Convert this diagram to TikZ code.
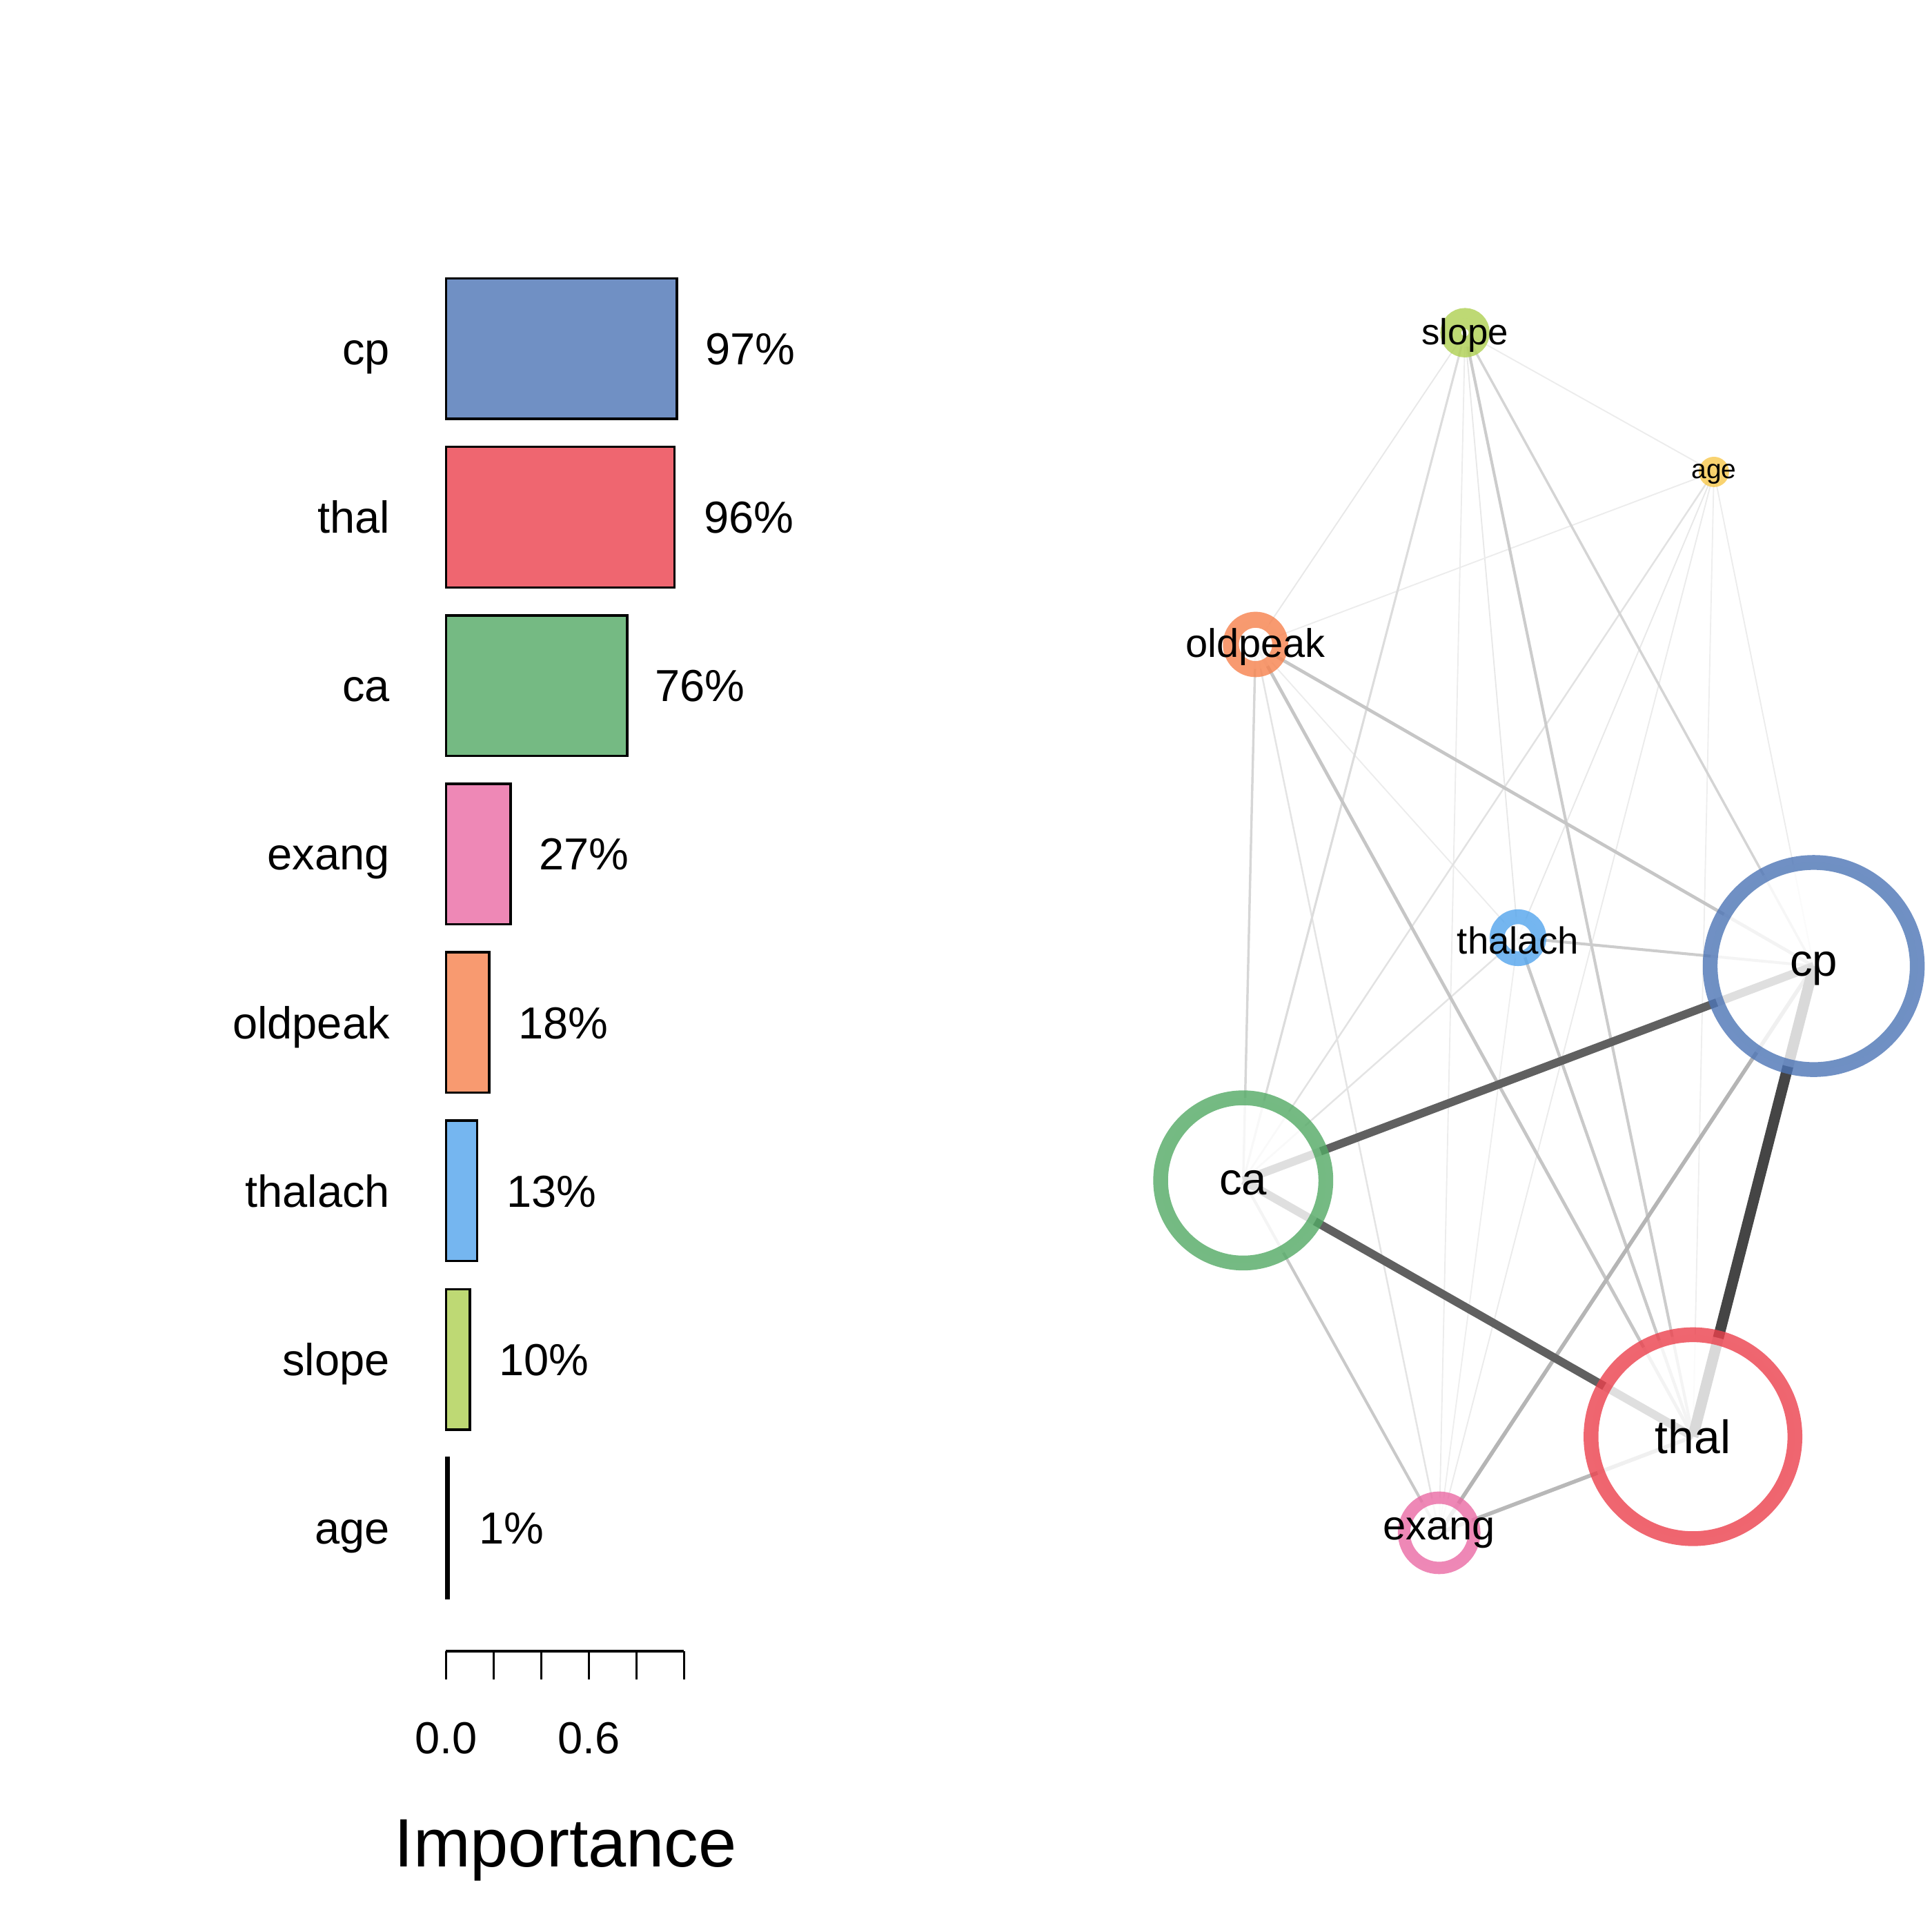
\documentclass[tikz,border=0pt]{standalone}
\usepackage{fontspec}
\setmainfont{Liberation Sans}
\pgfdeclarelayer{bg}
\pgfsetlayers{bg,main}
\definecolor{cpC}{HTML}{7090C4}
\definecolor{thalC}{HTML}{EF6670}
\definecolor{caC}{HTML}{75BA83}
\definecolor{exangC}{HTML}{EE88B6}
\definecolor{oldpeakC}{HTML}{F89A70}
\definecolor{thalachC}{HTML}{75B6F0}
\definecolor{slopeC}{HTML}{BED974}
\definecolor{ageC}{HTML}{F9D370}
\definecolor{cpR}{HTML}{4C74B5}
\definecolor{thalR}{HTML}{EB404C}
\definecolor{caR}{HTML}{52A964}
\definecolor{exangR}{HTML}{EA6AA4}
\definecolor{oldpeakR}{HTML}{F6814C}
\definecolor{thalachR}{HTML}{52A4EC}
\definecolor{slopeR}{HTML}{AECF51}
\definecolor{ageR}{HTML}{F8C84C}
\begin{document}
\begin{tikzpicture}[x=0.01cm,y=-0.01cm,
  fs/.style={font=\fontsize{#1}{#1}\selectfont},
  bar/.style={draw=black, line width=0.55pt},
  axisline/.style={draw=black, line width=0.55pt},
  blbl/.style={inner sep=0pt, fs=10.35pt},
  ring/.style={circle, inner sep=0pt, outer sep=0pt, fill=white, fill opacity=0.8, draw opacity=0.8},
  nlbl/.style={inner sep=0pt, text=black},
  ed/.style 2 args={draw=black!#1, line width=#2}]
\useasboundingbox (0,0) rectangle (1568,1568);

% ---------- bar chart ----------
\draw[bar, fill=cpC] (362,226) rectangle (549.4,340);
\draw[bar, fill=thalC] (362,362.7) rectangle (547.5,476.7);
\draw[bar, fill=caC] (362,499.4) rectangle (509,613.4);
\draw[bar, fill=exangC] (362,636.1) rectangle (414.5,750.1);
\draw[bar, fill=oldpeakC] (362,772.8) rectangle (397,886.8);
\draw[bar, fill=thalachC] (362,909.5) rectangle (387.2,1023.5);
\draw[bar, fill=slopeC] (362,1046.2) rectangle (381.4,1160.2);
\draw[bar, fill=ageC] (362,1182.9) rectangle (364,1296.9);

\node[blbl, anchor=base east] (lcp) at (317,296) {cp};
\node[blbl, anchor=base east] (lthal) at (317,432.7) {thal};
\node[blbl, anchor=base east] (lca) at (317,569.4) {ca};
\node[blbl, anchor=base east] (lexang) at (317,706.1) {exang};
\node[blbl, anchor=base east] (loldpeak) at (317,842.8) {oldpeak};
\node[blbl, anchor=base east] (lthalach) at (317,979.5) {thalach};
\node[blbl, anchor=base east] (lslope) at (317,1116.2) {slope};
\node[blbl, anchor=base east] (lage) at (317,1252.9) {age};

\node[blbl, anchor=base west] (pcp) at (572,296) {97\%};
\node[blbl, anchor=base west] (pthal) at (570.5,432.7) {96\%};
\node[blbl, anchor=base west] (pca) at (531,569.4) {76\%};
\node[blbl, anchor=base west] (pexang) at (437,706.1) {27\%};
\node[blbl, anchor=base west] (poldpeak) at (420,842.8) {18\%};
\node[blbl, anchor=base west] (pthalach) at (410.5,979.5) {13\%};
\node[blbl, anchor=base west] (pslope) at (404.5,1116.2) {10\%};
\node[blbl, anchor=base west] (page) at (388,1252.9) {1\%};

\draw[axisline] (362,1340) -- (555.2,1340);
\foreach \t in {362,400.6,439.3,478,516.6,555.2}
  \draw[axisline] (\t,1340) -- (\t,1363);
\node[blbl, anchor=base] (t00) at (362,1423) {0.0};
\node[blbl, anchor=base] (t06) at (478,1423) {0.6};
\node[inner sep=0pt, fs=15.8pt, anchor=base] (xtitle) at (459,1515) {Importance};

% ---------- network nodes ----------
\node[ring, draw=slopeR, line width=0.17cm, minimum size=0.23cm] (slope) at (1189,270) {};
\node[circle, inner sep=0pt, outer sep=0pt, fill=ageR, fill opacity=0.8, minimum size=0.246cm] (age) at (1391,383) {};
\node[ring, draw=oldpeakR, line width=0.13cm, minimum size=0.40cm] (oldpeak) at (1019,523) {};
\node[ring, draw=thalachR, line width=0.12cm, minimum size=0.34cm] (thalach) at (1232,761) {};
\node[ring, draw=cpR, line width=0.12cm, minimum size=1.68cm] (cp) at (1472,784) {};
\node[ring, draw=caR, line width=0.12cm, minimum size=1.34cm] (ca) at (1009,958) {};
\node[ring, draw=thalR, line width=0.12cm, minimum size=1.654cm] (thal) at (1374,1166) {};
\node[ring, draw=exangR, line width=0.10cm, minimum size=0.57cm] (exang) at (1168,1244) {};

\node[nlbl, fs=8.4pt] (slopeL) at ([yshift=-0.02cm]slope.center) {slope};
\node[nlbl, fs=6.2pt] (ageL) at ([yshift=-0.02cm]age.center) {age};
\node[nlbl, fs=9.2pt] (oldpeakL) at ([yshift=-0.02cm]oldpeak.center) {oldpeak};
\node[nlbl, fs=8.7pt] (thalachL) at ([yshift=-0.02cm]thalach.center) {thalach};
\node[nlbl, fs=10.4pt] (cpL) at ([yshift=-0.02cm]cp.center) {cp};
\node[nlbl, fs=10.4pt] (caL) at ([yshift=-0.02cm]ca.center) {ca};
\node[nlbl, fs=10.8pt] (thalL) at (thal.center) {thal};
\node[nlbl, fs=9.5pt] (exangL) at (exang.center) {exang};

% ---------- network edges ----------
\begin{pgfonlayer}{bg}
\draw[ed={7.5}{0.3pt}] (slope.center) -- (age.center);
\draw[ed={9}{0.3pt}] (slope.center) -- (oldpeak.center);
\draw[ed={9}{0.3pt}] (slope.center) -- (thalach.center);
\draw[ed={7.5}{0.3pt}] (slope.center) -- (exang.center);
\draw[ed={7.5}{0.3pt}] (age.center) -- (oldpeak.center);
\draw[ed={9}{0.3pt}] (age.center) -- (thalach.center);
\draw[ed={8}{0.3pt}] (age.center) -- (exang.center);
\draw[ed={6.7}{0.3pt}] (age.center) -- (thal.center);
\draw[ed={7.5}{0.3pt}] (age.center) -- (cp.center);
\draw[ed={7.5}{0.3pt}] (oldpeak.center) -- (thalach.center);
\draw[ed={6.7}{0.3pt}] (thalach.center) -- (exang.center);
\draw[ed={11.4}{0.4pt}] (age.center) -- (ca.center);
\draw[ed={10.5}{0.4pt}] (thalach.center) -- (ca.center);
\draw[ed={10.5}{0.4pt}] (oldpeak.center) -- (exang.center);
\draw[ed={13.7}{0.5pt}] (slope.center) -- (ca.center);
\draw[ed={16}{0.55pt}] (oldpeak.center) -- (ca.center);
\draw[ed={17}{0.55pt}] (slope.center) -- (cp.center);
\draw[ed={20}{0.65pt}] (thalach.center) -- (cp.center);
\draw[ed={20}{0.65pt}] (slope.center) -- (thal.center);
\draw[ed={21}{0.65pt}] (ca.center) -- (exang.center);
\draw[ed={21}{0.7pt}] (thalach.center) -- (thal.center);
\draw[ed={22.4}{0.75pt}] (oldpeak.center) -- (thal.center);
\draw[ed={22.4}{0.75pt}] (oldpeak.center) -- (cp.center);
\draw[ed={27.8}{0.9pt}] (thal.center) -- (exang.center);
\draw[ed={29}{0.9pt}] (cp.center) -- (exang.center);
\draw[ed={62.4}{1.9pt}] (ca.center) -- (cp.center);
\draw[ed={62.4}{1.9pt}] (ca.center) -- (thal.center);
\draw[ed={73}{2.5pt}] (cp.center) -- (thal.center);
\end{pgfonlayer}
\end{tikzpicture}
\end{document}
